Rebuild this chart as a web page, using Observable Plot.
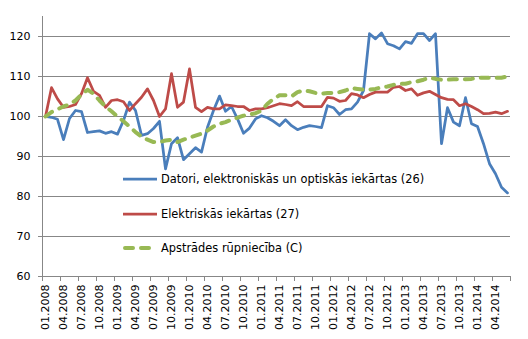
<!DOCTYPE html>
<html><head><meta charset="utf-8">
<script src="https://cdn.jsdelivr.net/npm/d3@7"></script>
<script src="https://cdn.jsdelivr.net/npm/@observablehq/plot@0.6"></script>
<style>
body{margin:0;background:#fff;}
#wrap{position:relative;width:528px;height:339px;font-family:"DejaVu Sans",sans-serif;}
#legend{position:absolute;left:123px;top:162px;font-size:11.4px;color:#000;}
.item{display:flex;align-items:center;height:34.5px;white-space:nowrap;}
.item svg{margin-right:4px;}
</style></head>
<body><div id="wrap"></div>
<script>
const tickLabels = ["01.2008","04.2008","07.2008","10.2008","01.2009","04.2009","07.2009","10.2009","01.2010","04.2010","07.2010","10.2010","01.2011","04.2011","07.2011","10.2011","01.2012","04.2012","07.2012","10.2012","01.2013","04.2013","07.2013","10.2013","01.2014","04.2014"];
const yTicks = [60,70,80,90,100,110,120];
const seriesNames = ["Datori, elektroniskās un optiskās iekārtas (26)","Elektriskās iekārtas (27)","Apstrādes rūpniecība  (C)"];
const datori = [100,99.8,99.3,94.2,99.5,101.5,101.2,96,96.2,96.4,95.8,96.2,95.6,99,103.6,101.5,95.3,95.7,97,98.8,86.9,93.2,94.7,89.2,90.7,92.2,91.1,97.3,101.5,105.1,101.3,102.5,99.4,95.8,97.1,99.4,100.2,99.7,98.8,97.7,99.2,97.7,96.7,97.3,97.7,97.5,97.2,102.7,102.2,100.5,101.7,101.9,103.6,106.5,120.7,119.4,120.9,118.2,117.7,116.9,118.7,118.3,120.7,120.7,119,120.7,93.2,102.2,98.6,97.7,104.7,98.2,97.5,93.2,88.2,85.7,82.3,80.9];
const elektr = [100,107.2,104.4,102.3,102.5,103,105.7,109.7,106.3,105.3,102.3,104,104.2,103.7,101.5,103.2,104.8,106.9,104,100,101.9,110.7,102.3,103.6,111.9,102.3,101.2,102.3,101.9,101.9,102.9,102.7,102.5,102.5,101.5,101.9,101.9,102.2,102.7,103.2,103,102.7,103.7,102.5,102.5,102.5,102.5,104.8,104.6,103.8,104,105.7,105.4,104.7,105.5,106.1,106.1,106.1,107.3,107.5,106.5,106.9,105.3,105.9,106.3,105.5,104.7,104.3,104.2,102.7,103.2,102.5,101.7,100.7,100.8,101.1,100.7,101.3];
const apstr = [100,101.1,101.8,102.5,103,104,105.5,106.7,105.7,104,102.5,101.3,100,98.8,97.5,96.1,95,94.2,93.6,93.6,94,94.2,93.6,94.2,94.7,95.2,95.7,96.5,97.5,98.2,98.6,99.2,99.7,100.2,100.5,100.8,101.5,103.2,104.4,105.3,105.3,105,106.1,106.5,106.3,105.9,105.7,105.9,105.9,106.1,106.5,107.1,106.9,106.7,106.7,106.9,107.3,107.5,107.9,108.2,108.2,108.6,108.8,109.2,109.7,109.4,109.2,109.2,109.3,109.3,109.3,109.4,109.7,109.7,109.7,109.7,109.7,110];

const colors = ["#4A7EBB","#BE4B48","#98B954"];
const n = datori.length;
const mk = (arr) => arr.map((v,i)=>({i, v}));
const labelIdx = tickLabels.map((_,k)=>3*k);
const boundary = d3.range(0, n/3+1).map(k=>3*k-0.5);

const chart = Plot.plot({
  width:528, height:339, marginLeft:42, marginRight:18, marginTop:16, marginBottom:63,
  style:{fontFamily:"DejaVu Sans", fontSize:"11px", color:"#000", background:"#fff"},
  x:{domain:[-0.5, n-0.5], axis:null},
  y:{domain:[60,125], axis:null},
  marks:[
    Plot.gridY(yTicks, {stroke:"#878787", strokeOpacity:1}),
    Plot.ruleX([-0.5], {y1:60, y2:125, stroke:"#878787"}),
    Plot.axisY(yTicks, {tickSize:4, tickPadding:8, stroke:"#878787", fill:"#000", label:null}),
    Plot.axisX(boundary, {tickSize:5, tickFormat:()=>"", stroke:"#878787", label:null}),
    Plot.axisX(labelIdx, {tickSize:0, tickPadding:8, tickRotate:-90, tickFormat:d=>tickLabels[d/3], fill:"#000", label:null}),
    Plot.line(mk(datori), {x:"i", y:"v", stroke:colors[0], strokeWidth:2.75, strokeLinejoin:"round"}),
    Plot.line(mk(elektr), {x:"i", y:"v", stroke:colors[1], strokeWidth:2.75, strokeLinejoin:"round"}),
    Plot.line(mk(apstr), {x:"i", y:"v", stroke:colors[2], strokeWidth:4, strokeDasharray:"8,8", strokeLinecap:"round", strokeLinejoin:"round"})
  ]
});
const wrap = document.getElementById("wrap");
wrap.appendChild(chart);
const leg = document.createElement("div");
leg.id = "legend";
seriesNames.forEach((name, k) => {
  const it = document.createElement("div");
  it.className = "item";
  const dash = k===2 ? 'stroke-dasharray="8,8" stroke-linecap="round" stroke-width="4"' : 'stroke-width="2.75"';
  const x1 = k===2 ? 2 : 0;
  it.innerHTML = `<svg width="34" height="8"><line x1="${x1}" y1="4" x2="34" y2="4" stroke="${colors[k]}" ${dash}/></svg><span>${name}</span>`;
  leg.appendChild(it);
});
wrap.appendChild(leg);
</script></body></html>
